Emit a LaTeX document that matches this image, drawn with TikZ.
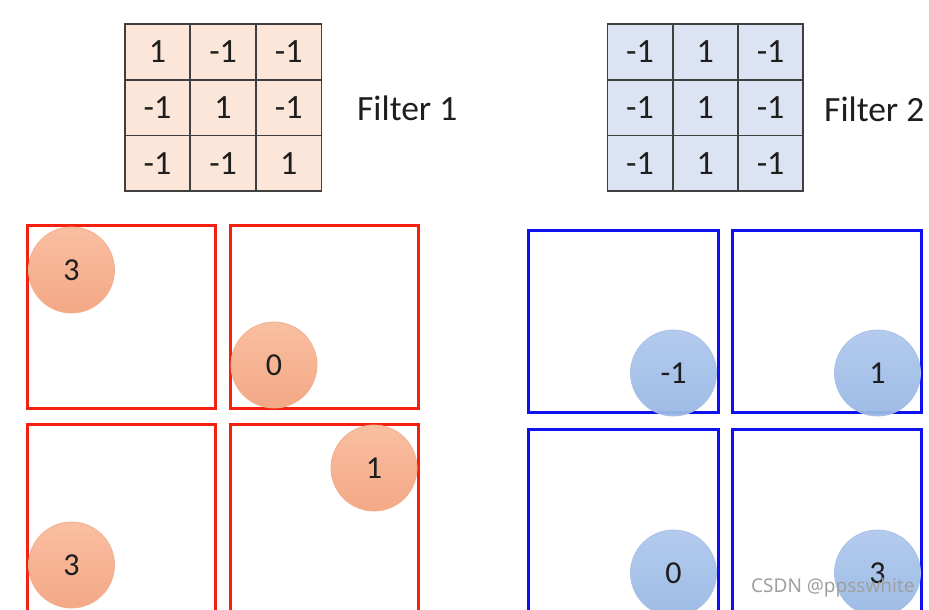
\documentclass[tikz,border=0pt]{standalone}
\usepackage{fontspec}
\setmainfont{Carlito}
\newfontfamily\wmfont{Noto Sans}
\definecolor{peach}{HTML}{FCE6DA}
\definecolor{lblue}{HTML}{DCE3F2}
\definecolor{gridc}{HTML}{404040}
\definecolor{redbox}{HTML}{F5200F}
\definecolor{bluebox}{HTML}{1010F0}
\definecolor{orTop}{HTML}{F9BC9C}
\definecolor{orBot}{HTML}{F4A480}
\definecolor{orEdge}{HTML}{F0B090}
\definecolor{blTop}{HTML}{B0C9EE}
\definecolor{blBot}{HTML}{9AB8E3}
\definecolor{blEdge}{HTML}{A8C0E6}
\definecolor{txt}{HTML}{1E1E1E}
\tikzset{
  cellA/.style={draw=gridc, fill=peach, line width=1.7pt, minimum width=65.6pt, minimum height=55.6pt, inner sep=0pt, text=txt, font=\fontsize{34}{38}\selectfont},
  cellB/.style={cellA, fill=lblue, minimum width=65.3pt},
  lab/.style={anchor=west, inner sep=0pt, text=txt, font=\fontsize{35.5}{40}\selectfont},
  rbox/.style={draw=redbox, line width=3pt},
  bbox/.style={draw=bluebox, line width=3pt},
  orc/.style={circle, minimum size=86pt, inner sep=0pt, draw=orEdge, line width=0.8pt, top color=orTop, bottom color=orBot, opacity=0.95, text opacity=1, text=txt, font=\fontsize{32}{36}\selectfont},
  blc/.style={orc, draw=blEdge, top color=blTop, bottom color=blBot},
}
\begin{document}
\begin{tikzpicture}[x=1pt, y=-1pt]
\useasboundingbox (0,0) rectangle (929,610);
\clip (0,0) rectangle (929,610);
\fill[white] (0,0) rectangle (929,610);
% Filter 1
\node[cellA] (a11) at (157.5,52) {1};
\node[cellA] (a12) at (223.1,52) {-1};
\node[cellA] (a13) at (288.7,52) {-1};
\node[cellA] (a21) at (157.5,107.6) {-1};
\node[cellA] (a22) at (223.1,107.6) {1};
\node[cellA] (a23) at (288.7,107.6) {-1};
\node[cellA] (a31) at (157.5,163.2) {-1};
\node[cellA] (a32) at (223.1,163.2) {-1};
\node[cellA] (a33) at (288.7,163.2) {1};
\node[lab] (f1) at (357,108) {Filter 1};
% Filter 2
\node[cellB] (b11) at (640,52) {-1};
\node[cellB] (b12) at (705.3,52) {1};
\node[cellB] (b13) at (770.6,52) {-1};
\node[cellB] (b21) at (640,107.6) {-1};
\node[cellB] (b22) at (705.3,107.6) {1};
\node[cellB] (b23) at (770.6,107.6) {-1};
\node[cellB] (b31) at (640,163.2) {-1};
\node[cellB] (b32) at (705.3,163.2) {1};
\node[cellB] (b33) at (770.6,163.2) {-1};
\node[lab] (f2) at (824,109) {Filter 2};
% red feature maps
\draw[rbox] (27,225) rectangle (215,408);
\draw[rbox] (230.5,225) rectangle (418.5,408);
\draw[rbox] (27,424.5) rectangle (215,640);
\draw[rbox] (230.5,424.5) rectangle (418.5,640);
% blue feature maps
\draw[bbox] (528.5,230) rectangle (718,412);
\draw[bbox] (732,230) rectangle (921.5,412);
\draw[bbox] (528.5,429.5) rectangle (718,640);
\draw[bbox] (732,429.5) rectangle (921.5,640);
% circles
\node[orc] (r1) at (71.5,270) {3};
\node[orc] (r2) at (274,365) {0};
\node[orc] (r3) at (374,468) {1};
\node[orc] (r4) at (71.5,565) {3};
\node[blc] (c1) at (673.5,373) {-1};
\node[blc] (c2) at (877.5,373) {1};
\node[blc] (c3) at (673.5,573) {0};
\node[blc] (c4) at (877.5,573) {3};
% watermark
\node[anchor=west, inner sep=0pt, text=gray!75, font=\wmfont\fontsize{19}{21}\selectfont] (wm) at (751,588) {CSDN @ppsswhite};
\end{tikzpicture}
\end{document}
